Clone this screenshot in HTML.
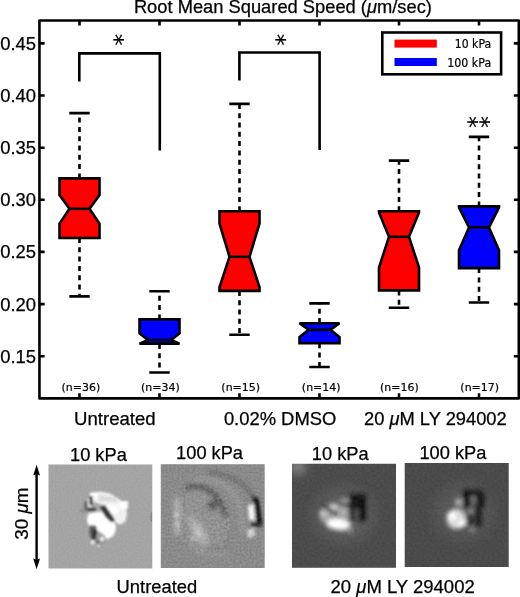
<!DOCTYPE html>
<html><head><meta charset="utf-8"><title>Root Mean Squared Speed</title>
<style>
html,body{margin:0;padding:0;background:#fff;}
body{width:520px;height:597px;overflow:hidden;}
svg{display:block;}
.h{font-family:"Liberation Sans",sans-serif;fill:#000;stroke:#000;stroke-width:0.25px;}
.l{font-family:"DejaVu Sans","Liberation Sans",sans-serif;fill:#000;stroke:#000;stroke-width:0.2px;}
</style></head><body>
<svg width="520" height="597" viewBox="0 0 520 597">
<defs>
<filter id="b3" x="-50%" y="-50%" width="200%" height="200%"><feGaussianBlur stdDeviation="4"/></filter>
<filter id="b0" x="-50%" y="-50%" width="200%" height="200%"><feGaussianBlur stdDeviation="0.7"/></filter>
<filter id="z5" x="-50%" y="-50%" width="200%" height="200%"><feGaussianBlur stdDeviation="7"/></filter>
<filter id="z8" x="-50%" y="-50%" width="200%" height="200%"><feGaussianBlur stdDeviation="7"/></filter>
<filter id="z10" x="-50%" y="-50%" width="200%" height="200%"><feGaussianBlur stdDeviation="9"/></filter>
<filter id="z12" x="-50%" y="-50%" width="200%" height="200%"><feGaussianBlur stdDeviation="14"/></filter>
<radialGradient id="h3"><stop offset="0" stop-color="#686868"/><stop offset="0.45" stop-color="#5c5c5c"/><stop offset="1" stop-color="#4c4c4c"/></radialGradient>
<radialGradient id="h4"><stop offset="0" stop-color="#646464"/><stop offset="0.45" stop-color="#585858"/><stop offset="1" stop-color="#4a4a4a"/></radialGradient>
<filter id="n1" filterUnits="userSpaceOnUse" x="40" y="455" width="240" height="125" color-interpolation-filters="sRGB">
<feTurbulence type="fractalNoise" baseFrequency="0.55" numOctaves="2" seed="3" result="t"/>
<feColorMatrix in="t" type="matrix" values="1 0 0 0 0 1 0 0 0 0 1 0 0 0 0 0 0 0 0 1" result="g"/>
<feComposite in="SourceGraphic" in2="g" operator="arithmetic" k1="0" k2="1" k3="0.07" k4="-0.035"/>
</filter>
<filter id="n1b" filterUnits="userSpaceOnUse" x="40" y="455" width="240" height="125" color-interpolation-filters="sRGB">
<feTurbulence type="fractalNoise" baseFrequency="0.5" numOctaves="2" seed="11" result="t"/>
<feColorMatrix in="t" type="matrix" values="1 0 0 0 0 1 0 0 0 0 1 0 0 0 0 0 0 0 0 1" result="g"/>
<feComposite in="SourceGraphic" in2="g" operator="arithmetic" k1="0" k2="1" k3="0.16" k4="-0.08"/>
</filter>
<filter id="tex" filterUnits="userSpaceOnUse" x="150" y="455" width="125" height="125" color-interpolation-filters="sRGB">
<feTurbulence type="fractalNoise" baseFrequency="0.3" numOctaves="2" seed="5" result="t"/>
<feColorMatrix in="t" type="matrix" values="1.6 0 0 0 -0.23 1.6 0 0 0 -0.23 1.6 0 0 0 -0.23 0 0 0 0 1" result="g"/>
<feGaussianBlur in="SourceAlpha" stdDeviation="2.5" result="a"/>
<feComposite in="g" in2="a" operator="in"/>
</filter>
<filter id="n2" filterUnits="userSpaceOnUse" x="280" y="455" width="240" height="125" color-interpolation-filters="sRGB">
<feTurbulence type="fractalNoise" baseFrequency="0.4" numOctaves="1" seed="7" result="t"/>
<feColorMatrix in="t" type="matrix" values="1 0 0 0 0 1 0 0 0 0 1 0 0 0 0 0 0 0 0 1" result="g"/>
<feComposite in="SourceGraphic" in2="g" operator="arithmetic" k1="0" k2="1" k3="0.08" k4="-0.04"/>
</filter>
<clipPath id="c1"><rect x="48.5" y="464.6" width="103.8" height="103.9"/></clipPath>
<clipPath id="c2"><rect x="160.8" y="464.2" width="103.9" height="103.9"/></clipPath>
<clipPath id="c3"><rect x="292" y="463.8" width="104" height="103.9"/></clipPath>
<clipPath id="c4"><rect x="404.7" y="463.1" width="104" height="103.9"/></clipPath>
</defs>
<rect width="520" height="597" fill="#fff"/>
<text class="h" x="133.90" y="13.0" font-size="18.2" textLength="298.04" lengthAdjust="spacingAndGlyphs">Root Mean Squared Speed (<tspan font-style="italic">μ</tspan>m/sec)</text>
<g stroke="#000" stroke-width="2.6" fill="none" stroke-linecap="butt">
<path d="M39.45 20.5H518.8V398.4H39.45Z" stroke-linejoin="round"/>
<path d="M40 356.2H44.6M513.8 356.2H518"/>
<path d="M40 304.1H44.6M513.8 304.1H518"/>
<path d="M40 251.9H44.6M513.8 251.9H518"/>
<path d="M40 199.8H44.6M513.8 199.8H518"/>
<path d="M40 147.7H44.6M513.8 147.7H518"/>
<path d="M40 95.5H44.6M513.8 95.5H518"/>
<path d="M40 43.4H44.6M513.8 43.4H518"/>
<path d="M79.5 21V25.6M79.5 393.2V398"/>
<path d="M159.5 21V25.6M159.5 393.2V398"/>
<path d="M239.5 21V25.6M239.5 393.2V398"/>
<path d="M319.5 21V25.6M319.5 393.2V398"/>
<path d="M399 21V25.6M399 393.2V398"/>
<path d="M479 21V25.6M479 393.2V398"/>
</g>
<text class="h" x="36.0" y="362.7" font-size="18.4" text-anchor="end">0.15</text>
<text class="h" x="36.0" y="310.6" font-size="18.4" text-anchor="end">0.20</text>
<text class="h" x="36.0" y="258.4" font-size="18.4" text-anchor="end">0.25</text>
<text class="h" x="36.0" y="206.3" font-size="18.4" text-anchor="end">0.30</text>
<text class="h" x="36.0" y="154.2" font-size="18.4" text-anchor="end">0.35</text>
<text class="h" x="36.0" y="102.0" font-size="18.4" text-anchor="end">0.40</text>
<text class="h" x="36.0" y="49.9" font-size="18.4" text-anchor="end">0.45</text>
<g stroke="#000" stroke-width="2.6" stroke-linejoin="miter">
<path d="M79.5 178.4V113.1" stroke-dasharray="5 4.3" fill="none"/>
<path d="M79.5 238.0V296.4" stroke-dasharray="5 4.3" fill="none"/>
<path d="M69.3 113.1H89.7M69.3 296.4H89.7" fill="none"/>
<path d="M59.5 178.4H99.5V195.0L89.5 208.8L99.5 223.6V238.0H59.5V223.6L69.5 208.8L59.5 195.0Z" fill="#f00"/>
<path d="M69.5 208.8H89.5" fill="none"/>
<path d="M239.5 211.2V103.9" stroke-dasharray="5 4.3" fill="none"/>
<path d="M239.5 290.9V334.8" stroke-dasharray="5 4.3" fill="none"/>
<path d="M229.3 103.9H249.7M229.3 334.8H249.7" fill="none"/>
<path d="M219.5 211.2H259.5V223.6L249.5 256.8L259.5 287.3V290.9H219.5V287.3L229.5 256.8L219.5 223.6Z" fill="#f00"/>
<path d="M229.5 256.8H249.5" fill="none"/>
<path d="M399.0 211.3V160.6" stroke-dasharray="5 4.3" fill="none"/>
<path d="M399.0 290.4V307.7" stroke-dasharray="5 4.3" fill="none"/>
<path d="M388.8 160.6H409.2M388.8 307.7H409.2" fill="none"/>
<path d="M379.0 211.3H419.0V212.5L409.0 236.8L419.0 267.5V290.4H379.0V267.5L389.0 236.8L379.0 212.5Z" fill="#f00"/>
<path d="M389.0 236.8H409.0" fill="none"/>
<path d="M479.0 206.4V136.9" stroke-dasharray="5 4.3" fill="none"/>
<path d="M479.0 268.1V302.5" stroke-dasharray="5 4.3" fill="none"/>
<path d="M468.8 136.9H489.2M468.8 302.5H489.2" fill="none"/>
<path d="M459.0 206.4H499.0V207.5L489.0 227.4L499.0 250.3V268.1H459.0V250.3L469.0 227.4L459.0 207.5Z" fill="#00f"/>
<path d="M469.0 227.4H489.0" fill="none"/>
<path d="M159.5 319.4V291.2" stroke-dasharray="5 4.3" fill="none"/>
<path d="M159.5 344.0V372.5" stroke-dasharray="5 4.3" fill="none"/>
<path d="M149.3 291.2H169.7M149.3 372.5H169.7" fill="none"/>
<path d="M139.5 319.4H179.5V333.3L171 340L179.5 343.6H139.5L148 340L139.5 333.3Z" fill="#00f" stroke-miterlimit="1.5"/>
<path d="M148 340H171" fill="none"/>
<path d="M319.5 323.0V303.4" stroke-dasharray="5 4.3" fill="none"/>
<path d="M319.5 343.3V367.0" stroke-dasharray="5 4.3" fill="none"/>
<path d="M309.3 303.4H329.7M309.3 367H329.7" fill="none"/>
<path d="M299.5 323.2H339.5L330.5 329.8L339.5 337V343.3H299.5V337L308.5 329.8Z" fill="#00f" stroke-miterlimit="1.5"/>
<path d="M308.5 329.8H330.5" fill="none"/>
<path d="M79.3 81.4V53.4H159.8V150.5" fill="none"/>
<path d="M239.4 80.5V52.5H319.6V150" fill="none"/>
</g>
<text class="l" transform="translate(118.5 39.6) rotate(90)" x="-5.64" y="11.96" font-size="23" stroke="none">*</text>
<text class="l" transform="translate(281.4 39.6) rotate(90)" x="-5.64" y="11.96" font-size="23" stroke="none">*</text>
<text class="l" transform="translate(472.9 121.9) rotate(90)" x="-5.64" y="11.96" font-size="23" stroke="none">*</text>
<text class="l" transform="translate(485.4 121.9) rotate(90)" x="-5.64" y="11.96" font-size="23" stroke="none">*</text>
<rect x="382.3" y="32.5" width="118.8" height="41.8" fill="#fff" stroke="#000" stroke-width="2.6"/>
<rect x="394.5" y="39.6" width="42.3" height="8" fill="#f00"/>
<rect x="394.5" y="58" width="42.3" height="8" fill="#00f"/>
<text class="l" x="491.2" y="47.5" font-size="11.5" text-anchor="end" textLength="36.4" lengthAdjust="spacingAndGlyphs">10 kPa</text>
<text class="l" x="491.2" y="66.7" font-size="11.5" text-anchor="end" textLength="44" lengthAdjust="spacingAndGlyphs">100 kPa</text>
<text class="l" x="80.9" y="391.3" font-size="11.3" text-anchor="middle" textLength="38.7" lengthAdjust="spacingAndGlyphs">(n=36)</text>
<text class="l" x="160.4" y="391.3" font-size="11.3" text-anchor="middle" textLength="38.7" lengthAdjust="spacingAndGlyphs">(n=34)</text>
<text class="l" x="240.7" y="391.3" font-size="11.3" text-anchor="middle" textLength="38.7" lengthAdjust="spacingAndGlyphs">(n=15)</text>
<text class="l" x="321.2" y="391.3" font-size="11.3" text-anchor="middle" textLength="38.7" lengthAdjust="spacingAndGlyphs">(n=14)</text>
<text class="l" x="399.4" y="391.3" font-size="11.3" text-anchor="middle" textLength="38.7" lengthAdjust="spacingAndGlyphs">(n=16)</text>
<text class="l" x="479.7" y="391.3" font-size="11.3" text-anchor="middle" textLength="38.7" lengthAdjust="spacingAndGlyphs">(n=17)</text>
<text class="h" x="74.07" y="425" font-size="18.4" textLength="81.63" lengthAdjust="spacingAndGlyphs">Untreated</text>
<text class="h" x="223.88" y="425" font-size="18.4" textLength="112.40" lengthAdjust="spacingAndGlyphs">0.02% DMSO</text>
<text class="h" x="364.09" y="425" font-size="18.4" textLength="142.62" lengthAdjust="spacingAndGlyphs">20 <tspan font-style="italic">μ</tspan>M LY 294002</text>
<text class="h" x="70.01" y="460.8" font-size="18.4" textLength="56.79" lengthAdjust="spacingAndGlyphs">10 kPa</text>
<text class="h" x="176.11" y="459.4" font-size="18.4" textLength="66.89" lengthAdjust="spacingAndGlyphs">100 kPa</text>
<text class="h" x="311.81" y="459.8" font-size="18.4" textLength="56.79" lengthAdjust="spacingAndGlyphs">10 kPa</text>
<text class="h" x="419.41" y="458.5" font-size="18.4" textLength="66.89" lengthAdjust="spacingAndGlyphs">100 kPa</text>
<text class="h" x="116.58" y="593" font-size="18.4" textLength="80.60" lengthAdjust="spacingAndGlyphs">Untreated</text>
<text class="h" x="330.58" y="593" font-size="18.4" textLength="144.14" lengthAdjust="spacingAndGlyphs">20 <tspan font-style="italic">μ</tspan>M LY 294002</text>
<g transform="translate(28.3 539.3) rotate(-90)"><text class="h" x="-0.42" y="0" font-size="18.4" textLength="52.26" lengthAdjust="spacingAndGlyphs">30 <tspan font-style="italic">μ</tspan>m</text>
</g>
<path d="M36.6 471V563" stroke="#000" stroke-width="2.4" fill="none"/>
<path d="M36.6 464.8L33.2 475.6L36.6 474L40 475.6ZM36.6 569.2L33.2 558.4L36.6 560L40 558.4Z" fill="#000"/>
<g clip-path="url(#c1)"><g filter="url(#n1)">
<rect x="48" y="464" width="105" height="105" fill="#a4a4a4"/>
<g transform="translate(75 480) scale(0.12552)">
<g filter="url(#z8)">
<path d="M125 105L200 92L280 108L350 150L400 200L416 262L400 332L358 356L322 335L300 280L240 205L180 185L128 165Z" fill="#f2f2f2"/>
<path d="M105 268L200 250L262 290L322 350L326 400L300 450L255 472L225 432L182 402L166 362L110 362L94 320Z" fill="#fff"/>
<path d="M118 100H180V140H118Z" fill="#fff"/>
<path d="M250 195L335 205L350 270L290 270Z" fill="#fff"/>
<path d="M355 168H422V228H355Z" fill="#fff"/>
<path d="M340 250L410 250L400 330L355 345Z" fill="#f0f0f0"/>
<path d="M180 120L330 135L340 180L190 170Z" fill="#dcdcdc"/>
<path d="M100 150H126V212H100Z" fill="#f4f4f4"/>
<path d="M200 212L238 200L318 318L290 338L240 292Z" fill="#3a3a3a"/>
<path d="M114 128H140V196H114Z" fill="#3c3c3c"/>
<path d="M76 168H100V242H76Z" fill="#5c5c5c"/>
<path d="M98 222H166V248H98Z" fill="#4a4a4a"/>
<path d="M40 236H100V252H40Z" fill="#808080"/>
<path d="M120 360L165 365L178 420L165 475L130 475L112 420Z" fill="#606060"/>
<path d="M140 395L168 395L168 472L140 472Z" fill="#2e2e2e"/>
<path d="M170 440L240 445L240 505L175 515Z" fill="#999"/>
<circle cx="140" cy="497" r="15" fill="#f4f4f4"/>
<circle cx="216" cy="470" r="17" fill="#f4f4f4"/>
<circle cx="185" cy="524" r="11" fill="#e0e0e0"/>
<circle cx="180" cy="492" r="11" fill="#3c3c3c"/>
</g>
</g>
<ellipse cx="151.8" cy="517" rx="1.6" ry="5" fill="#8a8a8a" filter="url(#b0)"/>
</g>
</g>
<g clip-path="url(#c2)"><g filter="url(#n1b)">
<rect x="160" y="463" width="106" height="106" fill="#8a8a8a"/>
<path d="M185.5 489.5C196 483 215 485 224.600 504.3C228.900 517 227.800 531.800 221.500 546.600C213 555.100 196 553 187.600 546.600C181.300 533.900 180.200 504.300 185.500 489.500Z" fill="#000" filter="url(#tex)" opacity="0.5"/>
<g transform="translate(158 462) scale(0.21154)">
<g filter="url(#z10)" opacity="0.9">
<path d="M130 130C180 100 270 110 315 200C335 260 330 330 300 400C260 440 180 430 140 400C110 340 105 200 130 130Z" fill="#939393"/>
<path d="M75 170H105V345H75Z" fill="#b4b4b4"/>
<path d="M130 260L170 250L250 380L215 405Z" fill="#aaa"/>
<path d="M150 300L200 290L235 350L180 380Z" fill="#b8b8b8"/>
<path d="M130 125C200 100 290 130 318 260" stroke="#555" stroke-width="24" fill="none"/>
<circle cx="258" cy="205" r="24" fill="#545454"/>
<path d="M240 48C340 55 420 100 452 175" stroke="#606060" stroke-width="14" fill="none"/>
<path d="M170 85C260 70 350 110 385 190" stroke="#a0a0a0" stroke-width="14" fill="none"/>
<path d="M335 130C385 170 405 250 398 335" stroke="#9a9a9a" stroke-width="22" fill="none"/>
<path d="M150 405C220 445 280 445 335 428" stroke="#9c9c9c" stroke-width="14" fill="none"/>
<path d="M235 398C280 412 310 412 335 405" stroke="#7a7a7a" stroke-width="12" fill="none"/>
</g>
<g filter="url(#z5)">
<path d="M425 205L452 200L458 275L430 272Z" fill="#f6f6f6"/>
<path d="M420 320L455 312L458 350L425 362Z" fill="#d0d0d0"/>
<path d="M446 160L476 172L494 290L468 302L460 230Z" fill="#141414"/>
<path d="M440 288H492V306H440Z" fill="#2a2a2a"/>
<circle cx="88" cy="250" r="8" fill="#ddd"/>
<circle cx="92" cy="292" r="8" fill="#d4d4d4"/>
<circle cx="190" cy="335" r="9" fill="#d8d8d8"/>
<circle cx="165" cy="362" r="8" fill="#d0d0d0"/>
</g>
</g>
</g>
</g>
<g clip-path="url(#c3)"><g filter="url(#n2)">
<rect x="291" y="463" width="106" height="106" fill="#4c4c4c"/>
<circle cx="298" cy="467" r="8" fill="#808080" filter="url(#b3)"/>
<g transform="translate(310 485) scale(0.13462)">
<ellipse cx="250" cy="225" rx="300" ry="270" fill="url(#h3)"/>
<g filter="url(#z12)">
<path d="M70 200L150 135L250 140L300 200L312 300L250 345L140 325L75 255Z" fill="#9c9c9c"/>
<ellipse cx="210" cy="290" rx="84" ry="40" fill="#fff" transform="rotate(8 210 290)"/>
<ellipse cx="205" cy="285" rx="55" ry="24" fill="#fff"/>
<circle cx="100" cy="212" r="32" fill="#c0c0c0"/>
<circle cx="180" cy="165" r="27" fill="#d0d0d0"/>
<circle cx="245" cy="205" r="28" fill="#b0b0b0"/>
<path d="M225 100H300V140H225Z" fill="#9a9a9a"/>
<path d="M85 160L100 145L210 205L195 228Z" fill="#262626"/>
<path d="M200 135H300V155H200Z" fill="#333"/>
<path d="M290 70H415V270H290Z" fill="#1e1e1e"/>
<path d="M368 80H412V255H368Z" fill="#0c0c0c"/>
<path d="M290 68H412V112H290Z" fill="#141414"/>
<path d="M328 180H362V262H328Z" fill="#585858"/>
<circle cx="300" cy="340" r="22" fill="#888"/>
</g>
</g>
</g>
</g>
<g clip-path="url(#c4)"><g filter="url(#n2)">
<rect x="404" y="462" width="106" height="106" fill="#4a4a4a"/>
<g transform="translate(425 480) scale(0.13462)">
<ellipse cx="280" cy="240" rx="290" ry="280" fill="url(#h4)"/>
<g filter="url(#z12)">
<ellipse cx="232" cy="290" rx="70" ry="76" fill="#d8d8d8"/>
<circle cx="198" cy="268" r="34" fill="#fff"/>
<circle cx="275" cy="322" r="28" fill="#fff"/>
<circle cx="250" cy="165" r="27" fill="#b0b0b0"/>
<path d="M285 70H425V115H285Z" fill="#202020"/>
<path d="M288 85H332V205H288Z" fill="#101010"/>
<path d="M388 95H442V205H388Z" fill="#161616"/>
<path d="M375 195H425V345H375Z" fill="#222"/>
<path d="M305 200H375V330H305Z" fill="#3a3a3a"/>
<circle cx="340" cy="232" r="22" fill="#8c8c8c"/>
<circle cx="356" cy="142" r="16" fill="#7c7c7c"/>
<circle cx="350" cy="372" r="17" fill="#9c9c9c"/>
<path d="M308 280H352V322H308Z" fill="#2c2c2c"/>
</g>
</g>
</g>
</g>
</svg>
</body></html>
